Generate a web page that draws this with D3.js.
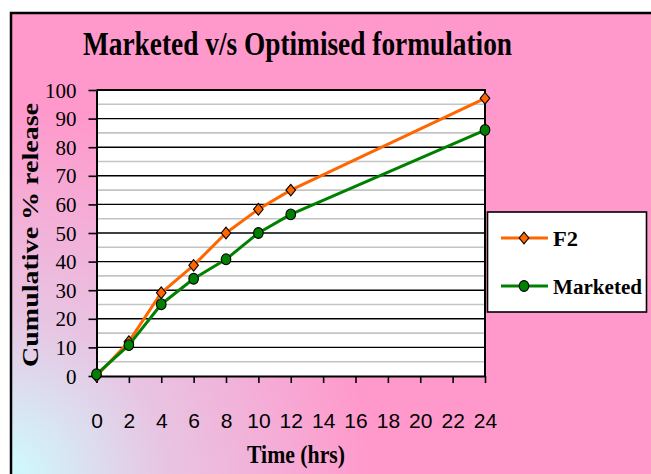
<!DOCTYPE html>
<html>
<head>
<meta charset="utf-8">
<script src="https://cdn.jsdelivr.net/npm/d3@7"></script>
<style>
  html, body { margin: 0; padding: 0; background: #ffffff; }
  svg { display: block; }
</style>
</head>
<body>
<div id="chart"></div>
<script>
// Cumulative drug release over time for the optimised formulation (F2) and the marketed product
const times = [0, 2, 4, 6, 8, 10, 12, 24];
const f2Release = [0, 12.0, 29.1, 38.7, 50.0, 58.3, 65.0, 97.1];
const marketedRelease = [0.6, 10.8, 25.1, 34.0, 40.8, 50.0, 56.5, 86.0];
const xTicks = [0, 2, 4, 6, 8, 10, 12, 14, 16, 18, 20, 22, 24];
const yTicks = [0, 10, 20, 30, 40, 50, 60, 70, 80, 90, 100];
const yMinorTicks = [5, 15, 25, 35, 45, 55, 65, 75, 85, 95];
const seriesNames = ["F2", "Marketed"];

const W = 651, H = 474;
const plot = { left: 96.5, top: 90, right: 485, bottom: 376 };

const svg = d3.select("#chart").append("svg")
  .attr("width", W).attr("height", H);

const defs = svg.append("defs");
const grad = defs.append("radialGradient")
  .attr("id", "bg")
  .attr("gradientUnits", "userSpaceOnUse")
  .attr("cx", 0).attr("cy", 480).attr("r", 370);
grad.append("stop").attr("offset", 0).attr("stop-color", "#ccffff");
grad.append("stop").attr("offset", 0.45).attr("stop-color", "#e8c4e2");
grad.append("stop").attr("offset", 1).attr("stop-color", "#ff99cc");

// chart frame
svg.append("rect")
  .attr("x", 11).attr("y", 13)
  .attr("width", W + 20).attr("height", H + 20)
  .attr("fill", "url(#bg)")
  .attr("stroke", "#000").attr("stroke-width", 2.5);

// title
svg.append("text")
  .attr("x", 83).attr("y", 55)
  .attr("font-family", "'Liberation Serif', 'Times New Roman', serif")
  .attr("font-weight", "bold")
  .attr("font-size", 34)
  .attr("textLength", 429)
  .attr("lengthAdjust", "spacingAndGlyphs")
  .attr("fill", "#000")
  .text("Marketed v/s Optimised formulation");

const x = d3.scaleLinear().domain([0, 24]).range([plot.left, plot.right]);
const y = d3.scaleLinear().domain([0, 100]).range([plot.bottom, plot.top]);

// plot area
svg.append("rect")
  .attr("x", plot.left).attr("y", plot.top)
  .attr("width", plot.right - plot.left).attr("height", plot.bottom - plot.top)
  .attr("fill", "#fff");

// minor gridlines
svg.append("g").selectAll("line").data(yMinorTicks).join("line")
  .attr("x1", plot.left).attr("x2", plot.right)
  .attr("y1", d => y(d)).attr("y2", d => y(d))
  .attr("stroke", "#c4c4c4").attr("stroke-width", 1.6);

// major gridlines
svg.append("g").selectAll("line").data(yTicks.filter(d => d > 0 && d < 100)).join("line")
  .attr("x1", plot.left).attr("x2", plot.right)
  .attr("y1", d => y(d)).attr("y2", d => y(d))
  .attr("stroke", "#000").attr("stroke-width", 1.4);

// plot border (top and right)
svg.append("path")
  .attr("d", `M${plot.left},${plot.top}H${plot.right}V${plot.bottom}`)
  .attr("fill", "none").attr("stroke", "#000").attr("stroke-width", 2);

// y axis
const yAxis = svg.append("g")
  .attr("transform", `translate(${plot.left},0)`)
  .call(d3.axisLeft(y).tickValues(yTicks).tickSize(8).tickPadding(12).tickSizeOuter(0));
yAxis.select(".domain").attr("stroke", "#000").attr("stroke-width", 2);
yAxis.selectAll(".tick line").attr("stroke", "#000").attr("stroke-width", 1.6);
yAxis.selectAll(".tick text")
  .attr("font-family", "'Liberation Serif', 'Times New Roman', serif")
  .attr("font-size", 21).attr("fill", "#000")
  .attr("dy", "0.34em");

// x axis
const xAxis = svg.append("g")
  .attr("transform", `translate(0,${plot.bottom})`)
  .call(d3.axisBottom(x).tickValues(xTicks).tickSize(7).tickPadding(30).tickSizeOuter(0));
xAxis.select(".domain").attr("stroke", "#000").attr("stroke-width", 2);
xAxis.selectAll(".tick line").attr("stroke", "#000").attr("stroke-width", 1.6);
xAxis.selectAll(".tick text")
  .attr("font-family", "'Liberation Sans', Arial, sans-serif")
  .attr("font-size", 21).attr("fill", "#000");

// axis titles
svg.append("text")
  .attr("x", 296).attr("y", 463)
  .attr("text-anchor", "middle")
  .attr("font-family", "'Liberation Serif', 'Times New Roman', serif")
  .attr("font-weight", "bold").attr("font-size", 25)
  .attr("textLength", 98).attr("lengthAdjust", "spacingAndGlyphs")
  .text("Time (hrs)");

svg.append("text")
  .attr("transform", "translate(38,235) rotate(-90)")
  .attr("text-anchor", "middle")
  .attr("font-family", "'Liberation Serif', 'Times New Roman', serif")
  .attr("font-weight", "bold").attr("font-size", 24)
  .attr("textLength", 264).attr("lengthAdjust", "spacingAndGlyphs")
  .text("Cumulative % release");

// series
const series = [
  { name: seriesNames[0], values: f2Release, color: "#ff6600", marker: "diamond" },
  { name: seriesNames[1], values: marketedRelease, color: "#008000", marker: "circle" }
];

const line = d3.line().x(d => x(d[0])).y(d => y(d[1]));
const diamond = "M0,-5.8L4.8,0L0,5.8L-4.8,0Z";

function drawMarker(g, type, color) {
  if (type === "diamond") {
    g.append("path").attr("d", diamond)
      .attr("fill", color).attr("stroke", "#000").attr("stroke-width", 1.1);
  } else {
    g.append("ellipse").attr("rx", 4.8).attr("ry", 5.4)
      .attr("fill", color).attr("stroke", "#000").attr("stroke-width", 1.1);
  }
}

series.forEach(s => {
  const pts = times.map((t, i) => [t, s.values[i]]);
  svg.append("path")
    .attr("d", line(pts))
    .attr("fill", "none")
    .attr("stroke", s.color)
    .attr("stroke-width", 3)
    .attr("stroke-linejoin", "round");
  pts.forEach(p => {
    const g = svg.append("g").attr("transform", `translate(${x(p[0])},${y(p[1])})`);
    drawMarker(g, s.marker, s.color);
  });
});

// legend
const legend = svg.append("g");
legend.append("rect")
  .attr("x", 487.5).attr("y", 212)
  .attr("width", 159).attr("height", 100)
  .attr("fill", "#fff").attr("stroke", "#000").attr("stroke-width", 1.6);

const legendRows = [238, 286];
series.forEach((s, i) => {
  const ly = legendRows[i];
  legend.append("line")
    .attr("x1", 501).attr("x2", 548).attr("y1", ly).attr("y2", ly)
    .attr("stroke", s.color).attr("stroke-width", 3);
  const g = legend.append("g").attr("transform", `translate(524,${ly})`);
  drawMarker(g, s.marker, s.color);
  legend.append("text")
    .attr("x", 553).attr("y", ly + 8)
    .attr("font-family", "'Liberation Serif', 'Times New Roman', serif")
    .attr("font-weight", "bold").attr("font-size", 22)
    .attr("textLength", i === 0 ? 25 : 89).attr("lengthAdjust", "spacingAndGlyphs")
    .text(s.name);
});
</script>
</body>
</html>
